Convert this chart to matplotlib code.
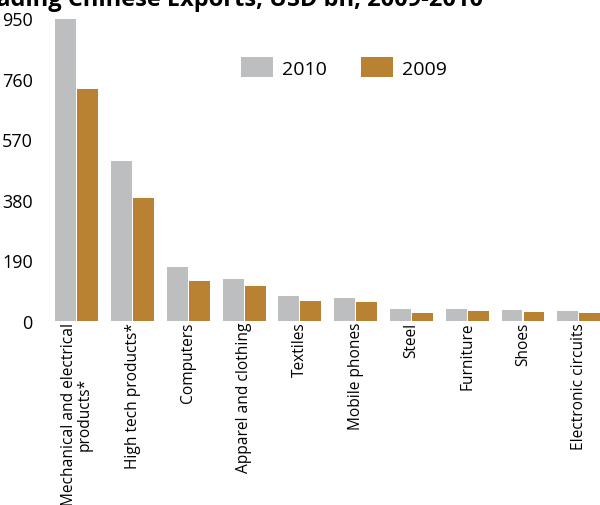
import matplotlib
matplotlib.use("Agg")
import matplotlib.pyplot as plt
import numpy as np

categories = ["Mechanical and electrical\nproducts*", "High tech products*", "Computers",
              "Apparel and clothing", "Textiles", "Mobile phones", "Steel", "Furniture",
              "Shoes", "Electronic circuits"]
v2010 = [948, 502, 169, 132, 78, 72, 38, 38, 35, 31]
v2009 = [727, 386, 125, 110, 63, 60, 25, 31, 28, 25]
yticks = [0, 190, 380, 570, 760, 950]

plt.rcParams['font.family'] = ['Open Sans', 'DejaVu Sans']
fig = plt.figure(figsize=(6.0, 5.06), dpi=100)
ax = fig.add_axes([55/600, 1-322/506, 545/600, 303/506])

x = np.arange(len(categories))
w = 0.375
ax.bar(x - w/2 - 0.01, v2010, width=w, color="#BDBEC0", label="2010")
ax.bar(x + w/2 + 0.01, v2009, width=w, color="#B88232", label="2009")

ax.set_xlim(-0.39, 9.38)
ax.set_ylim(0, 950)
ax.set_yticks(yticks)
ax.set_yticklabels([str(t) for t in yticks], fontsize=13)
ax.set_xticks(x)
ax.set_xticklabels(categories, rotation=90, fontsize=11.2, linespacing=0.95)
ax.tick_params(axis='x', length=0, pad=0.5)
ax.tick_params(axis='y', length=0, pad=16)
for s in ax.spines.values():
    s.set_visible(False)

leg = fig.legend(loc='upper left', bbox_to_anchor=(241/600, 1-58/506), ncol=2, frameon=False,
                 fontsize=14, handlelength=1.65, handleheight=1.2, columnspacing=1.75,
                 handletextpad=0.46, borderpad=0, borderaxespad=0)

fig.text(-0.051, 1.024, "Leading Chinese Exports, USD bn, 2009-2010", fontsize=17,
         fontweight='bold', ha='left', va='top')

fig.savefig("out.png", dpi=100)
